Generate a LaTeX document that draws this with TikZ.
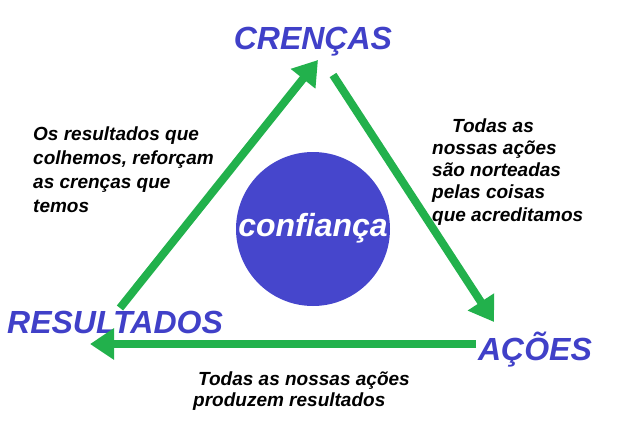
\documentclass[tikz,border=0pt]{standalone}
\usepackage{fontspec}
\setmainfont{Liberation Sans}
\usetikzlibrary{arrows.meta}
\definecolor{hblue}{HTML}{4040C8}
\definecolor{cblue}{HTML}{4646CC}
\definecolor{agreen}{HTML}{22B14C}
\begin{document}
\begin{tikzpicture}[x=1pt,y=-1pt,
  head/.style={text=hblue,font=\fontsize{32}{32}\selectfont\bfseries\itshape},
  lab/.style={font=\fontsize{19}{23}\selectfont\bfseries\itshape,anchor=base west,inner sep=0},
  arr/.style={agreen,line width=8,-{Triangle[length=24,width=30]}}]
\useasboundingbox (0,0) rectangle (624,426);
\node[head] (cr) at (313,42) {CRENÇAS};
\node[head] (re) at (115,322) {RESULTADOS};
\node[head] (ac) at (535,350) {AÇÕES};
\node[circle,fill=cblue,minimum size=154,inner sep=0] (c) at (313,229) {};
\node[text=white,font=\fontsize{32}{32}\selectfont\bfseries\itshape] (ct) at (313,228) {confiança};
\coordinate (a1s) at (120,308); \coordinate (a1e) at (318,60);
\coordinate (a2s) at (333,75);  \coordinate (a2e) at (494,322);
\coordinate (a3s) at (476,344); \coordinate (a3e) at (90,344);
\draw[arr] (a1s) -- (a1e);
\draw[arr] (a2s) -- (a2e);
\draw[arr] (a3s) -- (a3e);
\node[lab] (l1) at (33,140) {Os resultados que};
\node[lab] (l2) at (33,164) {colhemos, reforçam};
\node[lab] (l3) at (33,188) {as crenças que};
\node[lab] (l4) at (33,212) {temos};
\node[lab] (r1) at (452,132) {Todas as};
\node[lab] (r2) at (432,154) {nossas ações};
\node[lab] (r3) at (432,176) {são norteadas};
\node[lab] (r4) at (432,198) {pelas coisas};
\node[lab] (r5) at (432,221) {que acreditamos};
\node[lab] (b1) at (198,385) {Todas as nossas ações};
\node[lab] (b2) at (193,406) {produzem resultados};
\end{tikzpicture}
\end{document}
